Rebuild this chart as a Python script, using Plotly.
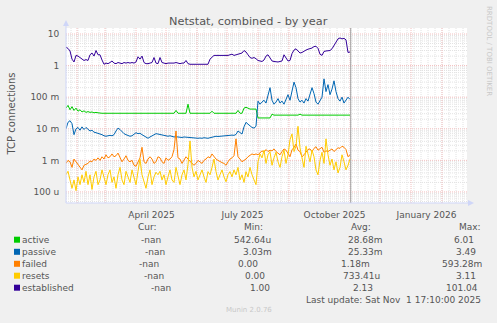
import plotly.graph_objects as go
import pandas as pd
import math

# ---------------- data ----------------
dates = pd.date_range("2025-01-21", "2025-11-01", freq="2D")

established = [
    3.8, 3.5, 2.9, 1.6, 1.3, 2.1, 2.0, 1.8, 1.55, 1.45,
    1.55, 1.45, 2.2, 2.5, 2.0, 3.0, 2.2, 2.2, 1.5, 1.1,
    1.2, 1.15, 1.25, 1.4, 1.2, 1.15, 1.25, 1.2, 1.15, 1.25,
    1.2, 1.25, 1.2, 1.25, 1.2, 1.3, 1.9, 1.6, 2.0, 1.25,
    1.15, 1.15, 1.2, 1.25, 1.8, 1.2, 1.15, 1.8, 1.25, 1.2,
    1.15, 1.2, 1.2, 1.15, 1.2, 1.25, 1.2, 1.15, 1.2, 1.2,
    1.45, 1.15, 1.1, 1.1, 1.12, 1.1, 1.08, 1.1, 1.12, 1.08,
    1.1, 1.1, 1.6, 1.9, 2.1, 2.1, 2.05, 2.1, 2.1, 2.1,
    2.05, 2.1, 2.2, 2.3, 2.1, 2.2, 2.2, 2.3, 2.5, 3.0,
    2.7, 2.2, 1.8, 1.7, 1.8, 1.65, 1.45, 1.4, 1.35, 1.5,
    2.0, 2.2, 1.7, 1.4, 1.35, 1.3, 1.3, 1.35, 1.4, 2.2,
    1.8, 1.4, 1.45, 2.4, 3.1, 3.4, 2.9, 2.5, 2.6, 2.9,
    3.1, 3.3, 3.4, 3.6, 4.0, 4.1, 3.5, 2.3, 2.1, 2.8,
    2.9, 3.0, 3.0, 3.4, 4.2, 5.5, 7.0, 7.5, 7.0, 7.3,
    6.5, 2.6, 2.7,
]

active = [
    0.045, 0.055, 0.04, 0.05, 0.038, 0.045, 0.036, 0.04, 0.034, 0.037,
    0.033, 0.035, 0.033, 0.034, 0.032, 0.033, 0.032, 0.031, 0.031, 0.031,
    0.031, 0.031, 0.031, 0.031, 0.031, 0.031, 0.031, 0.031, 0.031, 0.031,
    0.031, 0.031, 0.031, 0.031, 0.031, 0.031, 0.031, 0.031, 0.031, 0.031,
    0.031, 0.031, 0.031, 0.031, 0.031, 0.031, 0.031, 0.031, 0.031, 0.031,
    0.031, 0.031, 0.031, 0.031, 0.031, 0.038, 0.031, 0.031, 0.031, 0.031,
    0.031, 0.06, 0.031, 0.031, 0.031, 0.031, 0.031, 0.031, 0.031, 0.031,
    0.031, 0.031, 0.031, 0.036, 0.031, 0.031, 0.031, 0.031, 0.031, 0.031,
    0.031, 0.031, 0.031, 0.031, 0.031, 0.031, 0.038, 0.031, 0.031, 0.045,
    0.048, 0.044, 0.042, 0.042, 0.041, 0.042, 0.022, 0.022, 0.022, 0.022,
    0.022, 0.022, 0.022, 0.029, 0.027, 0.027, 0.027, 0.027, 0.027, 0.027,
    0.027, 0.027, 0.027, 0.027, 0.027, 0.027, 0.027, 0.029, 0.027, 0.027,
    0.027, 0.027, 0.027, 0.027, 0.027, 0.027, 0.027, 0.027, 0.027, 0.027,
    0.027, 0.027, 0.027, 0.028, 0.027, 0.027, 0.027, 0.027, 0.027, 0.027,
    0.027, 0.027, 0.027,
]

passive = [
    0.010, 0.016, 0.018, 0.0145, 0.0065, 0.010, 0.011, 0.009, 0.0115, 0.0095,
    0.011, 0.0095, 0.0085, 0.009, 0.0078, 0.0075, 0.0072, 0.0068, 0.0065, 0.006,
    0.0058, 0.006, 0.0062, 0.006, 0.0065, 0.0085, 0.0105, 0.0095, 0.008, 0.007,
    0.0065, 0.006, 0.0058, 0.006, 0.0068, 0.0075, 0.007, 0.0072, 0.0065, 0.006,
    0.0055, 0.005, 0.0055, 0.006, 0.0065, 0.007, 0.0068, 0.0066, 0.0064, 0.0062,
    0.006, 0.0058, 0.006, 0.0057, 0.0055, 0.0056, 0.0054, 0.0055, 0.0053, 0.0055,
    0.0054, 0.0052, 0.0051, 0.0052, 0.005, 0.0051, 0.005, 0.0051, 0.005, 0.0052,
    0.0051, 0.005, 0.0052, 0.0054, 0.0056, 0.0058, 0.0057, 0.0058, 0.006, 0.0059,
    0.0061, 0.0062, 0.0064, 0.0063, 0.0062, 0.0066, 0.0085, 0.0075, 0.0068, 0.0115,
    0.016, 0.014, 0.012, 0.011, 0.0105, 0.012, 0.075, 0.06, 0.07, 0.08,
    0.065, 0.12, 0.2, 0.08, 0.06, 0.07, 0.09, 0.065, 0.075, 0.06,
    0.085, 0.12, 0.08, 0.15, 0.3, 0.2, 0.09, 0.07, 0.08, 0.065,
    0.09, 0.075, 0.12, 0.2, 0.13, 0.07, 0.06, 0.08, 0.1, 0.38,
    0.15, 0.25, 0.12, 0.18, 0.33, 0.15, 0.09, 0.075, 0.1, 0.065,
    0.08, 0.1, 0.085,
]

failed = [
    0.0008, 0.001, 0.0009, 0.0006, 0.0011, 0.0009, 0.0007, 0.0006, 0.0005, 0.0007,
    0.00075, 0.0008, 0.00095, 0.0009, 0.0011, 0.001, 0.0012, 0.001, 0.0013, 0.0011,
    0.0015, 0.0012, 0.0013, 0.0016, 0.0013, 0.0014, 0.0017, 0.0013, 0.0009, 0.0011,
    0.0014, 0.001, 0.0009, 0.001, 0.0007, 0.00065, 0.0009, 0.0012, 0.0026, 0.0009,
    0.0008, 0.0011, 0.0013, 0.0011, 0.0008, 0.0009, 0.0013, 0.0012, 0.0009, 0.0008,
    0.0012, 0.001, 0.0011, 0.0013, 0.0022, 0.0085, 0.0012, 0.0011, 0.0008, 0.001,
    0.0013, 0.0011, 0.0009, 0.0008, 0.0007, 0.0008, 0.001, 0.0009, 0.0008, 0.001,
    0.0011, 0.0013, 0.0012, 0.0016, 0.0013, 0.0011, 0.001, 0.0009, 0.00085, 0.0008,
    0.0007, 0.0009, 0.0011, 0.0012, 0.0014, 0.0048, 0.0013, 0.0011, 0.0009, 0.001,
    0.0011, 0.0013, 0.0014, 0.0016, 0.0015, 0.0016, 0.0015, 0.0017, 0.002, 0.0018,
    0.0022, 0.0019, 0.0021, 0.002, 0.0023, 0.0019, 0.0017, 0.0015, 0.0019, 0.0023,
    0.0021, 0.0016, 0.0013, 0.0022, 0.0025, 0.0033, 0.0021, 0.0019, 0.0013, 0.0015,
    0.0018, 0.0022, 0.0023, 0.0019, 0.0024, 0.0027, 0.0021, 0.0023, 0.0026, 0.0018,
    0.002, 0.0019, 0.0021, 0.0023, 0.0019, 0.0022, 0.0025, 0.0024, 0.0028, 0.0026,
    0.0022, 0.0013, 0.0015,
]

resets = [
    0.00035, 0.00045, 0.00024, 0.00013, 0.00024, 0.00011, 0.0003, 0.00017, 0.00035, 0.0002,
    0.00045, 0.00017, 0.00035, 0.00012, 0.0003, 0.00045, 0.00017, 0.00024, 0.0005, 0.0003,
    0.00017, 0.00035, 0.0005, 0.0002, 0.0003, 0.00013, 0.00035, 0.0006, 0.00024, 0.00017,
    0.00045, 0.0003, 0.0002, 0.0005, 0.0003, 0.00017, 0.00045, 0.0011, 0.00035, 0.0002,
    0.00013, 0.0003, 0.0005, 0.00017, 0.0003, 0.00042, 0.00035, 0.00045, 0.00024, 0.00035,
    0.00017, 0.0003, 0.0005, 0.00024, 0.0002, 0.0006, 0.0003, 0.00017, 0.00035, 0.0005,
    0.00024, 0.00075, 0.0041, 0.0006, 0.0003, 0.00045, 0.00024, 0.00035, 0.0005, 0.0003,
    0.0002, 0.00044, 0.00035, 0.0006, 0.0011, 0.00044, 0.00024, 0.00035, 0.0005, 0.0003,
    0.00021, 0.00035, 0.00044, 0.0003, 0.0005, 0.00035, 0.0006, 0.00024, 0.00035, 0.0002,
    0.00044, 0.0003, 0.0006, 0.00035, 0.00024, 0.00017, 0.0009, 0.0016, 0.0012, 0.0021,
    0.0008, 0.0015, 0.0019, 0.0007, 0.0012, 0.0018, 0.0009, 0.0006, 0.0013, 0.0021,
    0.0008, 0.0015, 0.0045, 0.0069, 0.0019, 0.0028, 0.012, 0.0025, 0.0012, 0.0006,
    0.0028, 0.0015, 0.0009, 0.0021, 0.0013, 0.0005, 0.00035, 0.001, 0.0018, 0.0008,
    0.0048, 0.0015, 0.0007, 0.0011, 0.0005, 0.0009, 0.0004, 0.0006, 0.0015, 0.0009,
    0.0005, 0.0007, 0.0011,
]

series_names = ["active", "passive", "failed", "resets", "established"]
series_values = [active, passive, failed, resets, established]
series_colors = ["#00CC00", "#0066B3", "#FF8000", "#FFCC00", "#330099"]

cur_vals = ["-nan", "-nan", "-nan", "-nan", "-nan"]
min_vals = ["542.64u", "3.03m", "0.00", "0.00", "1.00"]
avg_vals = ["28.68m", "25.33m", "1.18m", "733.41u", "2.13"]
max_vals = ["6.01", "3.49", "593.28m", "3.11", "101.04"]

ytick_vals = [1e-4, 1e-3, 1e-2, 1e-1, 1, 10]
ytick_text = ["100 u", "1 m", "10 m", "100 m", "1", "10"]
xtick_vals = ["2025-04-16 12:00", "2025-07-16 12:00", "2025-10-16 12:00", "2026-01-16 12:00"]
xtick_text = ["April 2025", "July 2025", "October 2025", "January 2026"]

title = "Netstat, combined - by year"
ylabel = "TCP connections"
last_update = "Last update: Sat Nov  1 17:10:00 2025"
now_time = "2025-11-01 17:10"

# ---------------- layout geometry (pixels) ----------------
W, H = 497, 323
L, R, T, B = 66, 467, 28, 203
YLOG = (-4.35, 1.19)
XR = ["2025-01-21", "2026-02-26"]


def px(x):
    return (x - L) / (R - L)


def py(y):
    return (B - y) / (B - T)


def ylog_paper(v):
    return (math.log10(v) - YLOG[0]) / (YLOG[1] - YLOG[0])


fig = go.Figure()
for name, vals, col in zip(series_names, series_values, series_colors):
    fig.add_trace(go.Scatter(x=dates, y=vals, mode="lines", name=name,
                             line=dict(color=col, width=1), hoverinfo="skip"))

shapes = []
GRID = "#E2E2E2"
MGRID = "#F2BEBE"
# horizontal minor / major grid
for n in range(-5, 2):
    for k in range(1, 10):
        v = k * 10 ** n
        lv = math.log10(v)
        if lv <= YLOG[0] or lv >= YLOG[1]:
            continue
        yp = ylog_paper(v)
        shapes.append(dict(type="line", xref="paper", yref="paper", x0=0, x1=1, y0=yp, y1=yp,
                           line=dict(color=MGRID if k == 1 else GRID, width=1, dash="1px,1px"),
                           layer="below"))
# vertical weekly minor grid
for d in pd.date_range("2025-01-26", "2026-02-25", freq="7D"):
    shapes.append(dict(type="line", xref="x", yref="paper", x0=d, x1=d, y0=0, y1=1,
                       line=dict(color=GRID, width=1, dash="1px,1px"), layer="below"))
# monthly major grid
for d in pd.date_range("2025-02-01", "2026-02-01", freq="MS"):
    shapes.append(dict(type="line", xref="x", yref="paper", x0=d, x1=d, y0=0, y1=1,
                       line=dict(color=MGRID, width=1, dash="1px,1px"), layer="below"))
# now line
shapes.append(dict(type="line", xref="x", yref="paper", x0=now_time, x1=now_time, y0=0, y1=1,
                   line=dict(color="#A0A0A0", width=1), layer="below"))
# axes + arrows
AX = "#CFD6F8"
shapes.append(dict(type="line", xref="paper", yref="paper", x0=px(66), x1=px(66), y0=py(203), y1=py(24),
                   line=dict(color=AX, width=1)))
shapes.append(dict(type="line", xref="paper", yref="paper", x0=px(66), x1=px(470), y0=py(203), y1=py(203),
                   line=dict(color=AX, width=1)))
shapes.append(dict(type="path", xref="paper", yref="paper",
                   path=f"M {px(63)} {py(26)} L {px(69)} {py(26)} L {px(66)} {py(20)} Z",
                   fillcolor=AX, line=dict(color=AX, width=0)))
shapes.append(dict(type="path", xref="paper", yref="paper",
                   path=f"M {px(468)} {py(200)} L {px(468)} {py(206)} L {px(474)} {py(203)} Z",
                   fillcolor=AX, line=dict(color=AX, width=0)))

# legend squares
row_y = [239.7, 251.8, 263.8, 275.7, 287.7]
for col, yy in zip(series_colors, row_y):
    shapes.append(dict(type="rect", xref="paper", yref="paper", x0=px(14), x1=px(20),
                       y0=py(yy + 3), y1=py(yy - 3), fillcolor=col, line=dict(width=0)))

TXT = "#555555"
FONT = "DejaVu Sans"
ann = []


def text(s, x, y, anchor="left", size=9, color=TXT, angle=0):
    ann.append(dict(text=s, xref="paper", yref="paper", x=px(x), y=py(y), xanchor=anchor,
                    yanchor="middle", showarrow=False, textangle=angle, borderpad=0,
                    font=dict(family=FONT, size=size, color=color)))


text(title, 248, 21.5, "center", size=11.3)
text(ylabel, 11, 114.5, "center", size=10, angle=-90)
text("RRDTOOL / TOBI OETIKER", 489, 51, "center", size=7, color="#C8C8C8", angle=90)

# legend header
text("Cur:", 137, 226.7)
text("Min:", 243, 226.7)
text("Avg:", 350, 226.7)
text("Max:", 458, 226.7)

cur_x = [140, 144, 138, 143, 150]
min_x_end = [272, 273, 259, 266, 271]
avg_x = [347, 347, 340, 342, 352]
max_x_end = [475, 477, 483, 477, 479]
for i, yy in enumerate(row_y):
    text(series_names[i], 20.5, yy)
    text(cur_vals[i], cur_x[i], yy)
    text(min_vals[i], min_x_end[i], yy, "right")
    text(avg_vals[i], avg_x[i], yy)
    text(max_vals[i], max_x_end[i], yy, "right")

text(last_update, 482, 300, "right")
text("Munin 2.0.76", 249, 310, "center", size=7, color="#C8C8C8")

fig.update_layout(
    width=W, height=H,
    margin=dict(l=L, r=W - R, t=T, b=H - B, pad=0),
    paper_bgcolor="#F0F0F0", plot_bgcolor="#FFFFFF",
    showlegend=False,
    font=dict(family=FONT, size=9, color=TXT),
    shapes=shapes, annotations=ann,
)
fig.update_xaxes(type="date", range=XR, showgrid=False, zeroline=False, showline=False,
                 tickvals=xtick_vals, ticktext=xtick_text, ticks="outside", ticklen=3,
                 tickcolor="rgba(0,0,0,0)", tickfont=dict(family=FONT, size=9, color=TXT))
fig.update_yaxes(type="log", range=list(YLOG), showgrid=False, zeroline=False, showline=False,
                 tickvals=ytick_vals, ticktext=ytick_text, ticks="outside", ticklen=4,
                 tickcolor="rgba(0,0,0,0)", tickfont=dict(family=FONT, size=9, color=TXT))

fig.write_html("out.html")
